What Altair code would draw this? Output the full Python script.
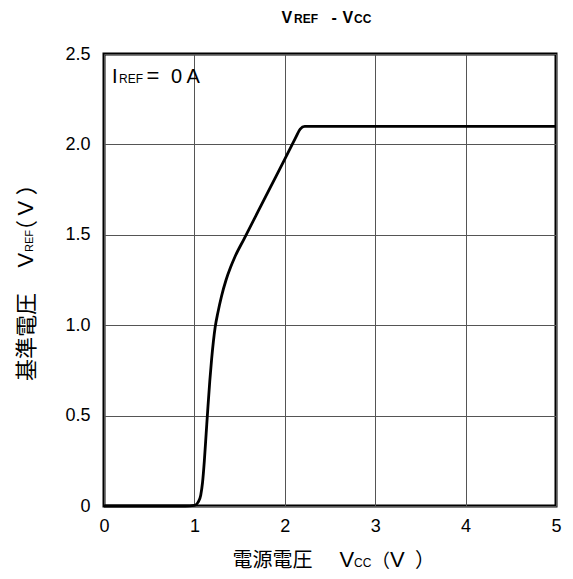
import altair as alt
import pandas as pd

# Curve data (Vcc in V, Vref in V)
vcc = [0, 0.9, 1.0, 1.04, 1.07, 1.09, 1.11, 1.13, 1.15, 1.17, 1.19, 1.21, 1.23,
       1.26, 1.30, 1.35, 1.40, 1.45, 1.55, 1.7, 1.85, 2.0, 2.12, 2.17, 2.22, 3, 4, 5]
vref = [0, 0, 0.003, 0.02, 0.06, 0.13, 0.25, 0.40, 0.55, 0.69, 0.81, 0.91, 0.99,
        1.07, 1.16, 1.25, 1.32, 1.38, 1.478, 1.625, 1.772, 1.919, 2.037, 2.085, 2.10, 2.10, 2.10, 2.10]

x_ticks = [0, 1, 2, 3, 4, 5]
y_ticks = [0, 0.5, 1.0, 1.5, 2.0, 2.5]

df = pd.DataFrame({"vcc": vcc, "vref": vref})
one = pd.DataFrame({"k": [0]})

LAT = "Liberation Sans, Arial, sans-serif"
CJK = "Noto Sans CJK JP"
OX, OY = 104, 54  # plot origin on the page


def label(text, x, y, size, weight="normal", angle=0, font=LAT):
    return alt.Chart(one).mark_text(
        text=text, fontSize=size, fontWeight=weight, angle=angle,
        align="left", baseline="alphabetic", font=font, color="black"
    ).encode(x=alt.value(x - OX), y=alt.value(y - OY))


line = alt.Chart(df).mark_line(color="black", strokeWidth=2.8, interpolate="monotone").encode(
    x=alt.X("vcc:Q", scale=alt.Scale(domain=[0, 5], nice=False),
            axis=alt.Axis(values=x_ticks, title=None, grid=True, ticks=False, domain=False,
                          labelFont=LAT, labelFontSize=18, labelColor="black",
                          labelFlush=False, labelPadding=11,
                          gridColor="#555555", gridWidth=1)),
    y=alt.Y("vref:Q", scale=alt.Scale(domain=[0, 2.5], nice=False),
            axis=alt.Axis(values=y_ticks, title=None, grid=True, ticks=False, domain=False,
                          labelFont=LAT, labelFontSize=18, labelColor="black",
                          labelFlush=False, labelPadding=14,
                          gridColor="#555555", gridWidth=1,
                          labelExpr="datum.value == 0 ? '0' : format(datum.value, '.1f')")),
)

texts = [
    # title  VREF - VCC
    label("V", 281.5, 22.5, 16, "bold"),
    label("REF", 294, 22.5, 12, "bold"),
    label("-", 331.5, 22.5, 16, "bold"),
    label("V", 342.5, 22.5, 16, "bold"),
    label("CC", 354, 22.5, 12, "bold"),
    # annotation IREF = 0 A
    label("I", 112, 83.3, 20),
    label("REF", 119, 83.3, 12),
    label("=", 146.5, 83.3, 22),
    label("0 A", 171, 83.3, 20),
    # x title 電源電圧  VCC（V）
    label("電源電圧", 232.5, 566.5, 20, font=CJK),
    label("V", 339.5, 566.5, 22),
    label("CC", 354, 566.5, 12),
    label("（", 371.5, 566.5, 18.5, font=CJK),
    label("V", 390, 566.5, 22),
    label("）", 415, 566.5, 20, font=CJK),
    # y title 基準電圧  VREF（V）
    label("基準電圧", 33.5, 381, 22, angle=270, font=CJK),
    label("V", 33.3, 267.5, 22, angle=270),
    label("REF", 33.3, 252, 11, angle=270),
    label("（", 33.5, 242, 22, angle=270, font=CJK),
    label("V", 33.3, 215.5, 22, angle=270),
    label("）", 33.5, 195.2, 22, angle=270, font=CJK),
]

chart = alt.layer(line, *texts).properties(
    width=452, height=452,
    autosize=alt.AutoSizeParams(type="none"),
    padding={"left": 96, "top": 46, "right": 9, "bottom": 65},
).configure_view(stroke="black", strokeWidth=3)

chart.save("out.html", embed_options={"renderer": "svg", "actions": False})
